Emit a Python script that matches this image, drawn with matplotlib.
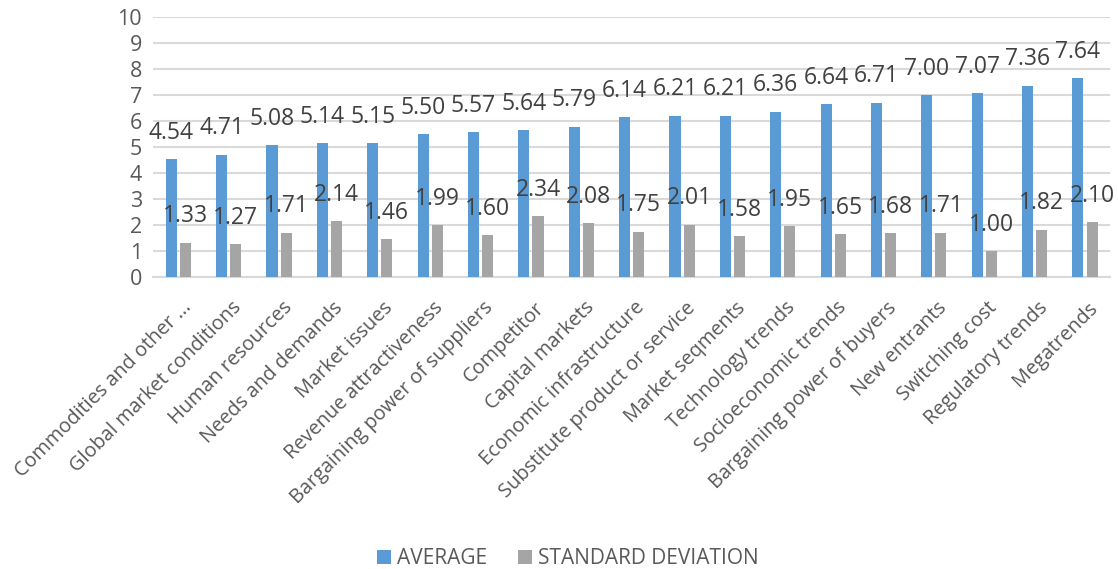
import numpy as np
import matplotlib
matplotlib.use("Agg")
import matplotlib.pyplot as plt
from matplotlib.transforms import ScaledTranslation

plt.rcParams['font.family'] = ['Open Sans', 'DejaVu Sans']

categories = [
    "Commodities and other ...", "Global market conditions", "Human resources",
    "Needs and demands", "Market issues", "Revenue attractiveness",
    "Bargaining power of suppliers", "Competitor", "Capital markets",
    "Economic infrastructure", "Substitute product or service", "Market seqments",
    "Technology trends", "Socioeconomic trends", "Bargaining power of buyers",
    "New entrants", "Switching cost", "Regulatory trends", "Megatrends",
]
average = [4.54, 4.71, 5.08, 5.14, 5.15, 5.50, 5.57, 5.64, 5.79, 6.14,
           6.21, 6.21, 6.36, 6.64, 6.71, 7.00, 7.07, 7.36, 7.64]
std_dev = [1.33, 1.27, 1.71, 2.14, 1.46, 1.99, 1.60, 2.34, 2.08, 1.75,
           2.01, 1.58, 1.95, 1.65, 1.68, 1.71, 1.00, 1.82, 2.10]

BLUE = "#5B9BD5"
GREY = "#A5A5A5"
TEXT = "#595959"

fig = plt.figure(figsize=(11.18, 5.69), dpi=100)
ax = fig.add_axes([0.137, 0.513, 0.856, 0.457])

x = np.arange(len(categories))
w = 0.22
b1 = ax.bar(x - 0.14, average, w, color=BLUE, label="AVERAGE", zorder=3)
b2 = ax.bar(x + 0.14, std_dev, w, color=GREY, label="STANDARD DEVIATION", zorder=3)

# value labels sit a fixed distance above each bar
for bars, vals in ((b1, average), (b2, std_dev)):
    for rect, v in zip(bars, vals):
        ax.annotate(f"{v:.2f}", (rect.get_x() + rect.get_width() / 2, v),
                    xytext=(0, 19), textcoords="offset points",
                    ha="center", va="center", fontsize=16.5, color="#404040",
                    zorder=4)

ax.set_xlim(-0.5, len(categories) - 0.5)
ax.set_ylim(0, 10)
ax.set_yticks(range(0, 11))
ax.yaxis.grid(True, color="#D9D9D9", linewidth=1.5, zorder=0)
ax.set_axisbelow(True)
for s in ("top", "right", "left"):
    ax.spines[s].set_visible(False)
ax.spines["bottom"].set_color("#D9D9D9")
ax.spines["bottom"].set_linewidth(1.5)
ax.tick_params(axis="y", length=0, labelsize=15.5, labelcolor=TEXT, pad=8)
ax.tick_params(axis="x", length=0, labelsize=14.3, labelcolor=TEXT, pad=20)
ax.set_xticks(x)
ax.set_xticklabels(categories, rotation=45, ha="right", va="center",
                   rotation_mode="anchor")
shift = ScaledTranslation(0.1, 0, fig.dpi_scale_trans)
for lbl in ax.get_xticklabels():
    lbl.set_transform(lbl.get_transform() + shift)

fig.legend(handles=[b1, b2], loc="center", bbox_to_anchor=(0.508, 0.018),
           ncol=2, frameon=False, fontsize=15, labelcolor=TEXT,
           handlelength=0.65, handleheight=0.65, columnspacing=1.5, handletextpad=0.3)

fig.savefig("out.png", dpi=100)
